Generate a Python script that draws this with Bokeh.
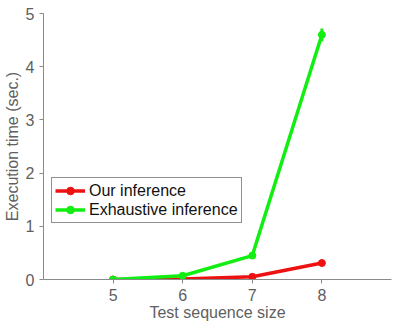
from bokeh.plotting import figure
from bokeh.models import Legend, LegendItem, FixedTicker, Range1d
from bokeh.embed import file_html
from bokeh.resources import INLINE

sizes = [5, 6, 7, 8]
ours = [0.0, 0.01, 0.05, 0.31]
ours_err = [0.0, 0.005, 0.01, 0.02]
exhaustive = [0.0, 0.07, 0.45, 4.6]
exhaustive_err = [0.0, 0.01, 0.03, 0.12]
x_ticks = [5, 6, 7, 8]
y_ticks = [0, 1, 2, 3, 4, 5]

FONT = "Liberation Sans"
GRAY = "#606060"

p = figure(width=386, height=317, output_backend="svg", toolbar_location=None,
           x_range=Range1d(4, 9), y_range=Range1d(0, 5),
           frame_width=348, frame_height=266,
           min_border_left=35, min_border_right=3, min_border_top=13, min_border_bottom=38)
p.outline_line_color = None
p.grid.visible = False

for ax in (p.xaxis, p.yaxis):
    ax.axis_line_color = "#8a8a8a"
    ax.major_tick_line_color = "#8a8a8a"
    ax.minor_tick_line_color = None
    ax.major_tick_in = 0
    ax.major_tick_out = 4
    ax.major_label_text_font = FONT
    ax.major_label_text_font_size = "16px"
    ax.major_label_text_color = GRAY
    ax.axis_label_text_font = FONT
    ax.axis_label_text_font_size = "16px"
    ax.axis_label_text_color = GRAY
    ax.axis_label_text_font_style = "normal"

p.xaxis.ticker = FixedTicker(ticks=x_ticks)
p.yaxis.ticker = FixedTicker(ticks=y_ticks)
p.xaxis.axis_label = "Test sequence size"
p.yaxis.axis_label = "Execution time (sec.)"
p.xaxis.axis_label_standoff = 0
p.yaxis.axis_label_standoff = 2
p.xaxis.major_label_standoff = 5
p.yaxis.major_label_standoff = 5

def draw(vals, errs, color):
    lo = [v - e for v, e in zip(vals, errs)]
    hi = [v + e for v, e in zip(vals, errs)]
    p.segment(x0=sizes, y0=lo, x1=sizes, y1=hi, line_color=color, line_width=3)
    r = p.line(sizes, vals, line_color=color, line_width=3.5)
    c = p.scatter(sizes, vals, size=7, fill_color=color, line_color=color)
    return r, c

red = draw(ours, ours_err, "#ee1111")
green = draw(exhaustive, exhaustive_err, "#11ee11")

legend = Legend(items=[LegendItem(label="Our inference", renderers=list(red)),
                       LegendItem(label="Exhaustive inference", renderers=list(green))],
                location=(8, 56))
legend.label_text_font = FONT
legend.label_text_font_size = "16px"
legend.label_text_color = "#111111"
legend.border_line_color = "#222222"
legend.border_line_width = 1
legend.background_fill_alpha = 1
legend.glyph_width = 30
legend.glyph_height = 19
legend.label_height = 19
legend.label_standoff = 4
legend.spacing = 0
legend.padding = 3
legend.margin = 0
p.add_layout(legend, "center")

open("out.html", "w").write(file_html(p, INLINE))
